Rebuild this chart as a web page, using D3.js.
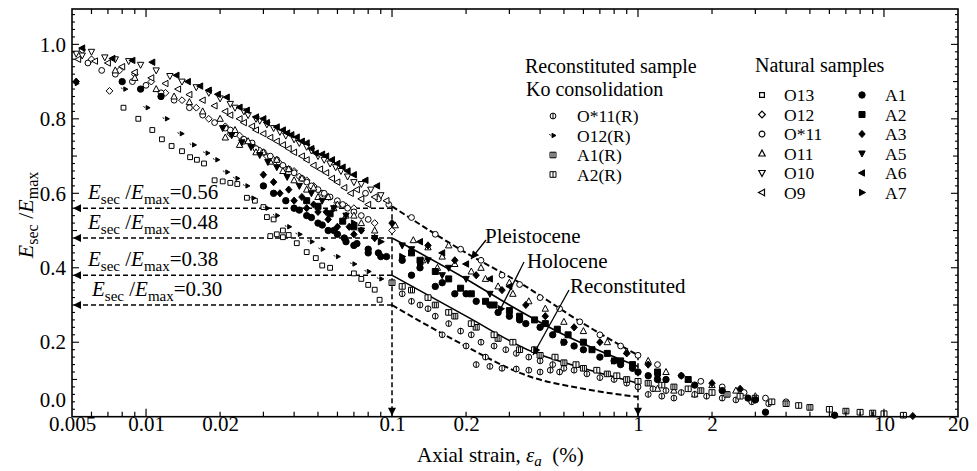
<!DOCTYPE html>
<html><head><meta charset="utf-8">
<script src="https://cdn.jsdelivr.net/npm/d3@7"></script>
<style>body{margin:0;background:#fff}svg{display:block}text{font-family:"Liberation Serif","Times New Roman",serif;fill:#000}</style>
</head><body><svg id="c" width="977" height="471"></svg>
<script>
// ---------- data (axial strain %, Esec/Emax) ----------
const xTickLabels = [0.005, 0.01, 0.02, 0.1, 0.2, 1, 2, 10, 20];
const xTickText = ["0.005", "0.01", "0.02", "0.1", "0.2", "1", "2", "10", "20"];
const yTickLabels = [0, 0.2, 0.4, 0.6, 0.8, 1.0];
const yTickText = ["0.0", "0.2", "0.4", "0.6", "0.8", "1.0"];

const o13 = [[0.0081,0.83],[0.0093,0.80],[0.0106,0.77],[0.0116,0.745],[0.0127,0.727],[0.014,0.713],[0.0151,0.697],[0.0161,0.69],[0.0172,0.68],[0.019,0.635],[0.0205,0.632],[0.022,0.628],[0.0235,0.625],[0.0257,0.588],[0.0277,0.58],[0.030,0.563],[0.031,0.536],[0.033,0.53],[0.036,0.50],[0.038,0.488],[0.041,0.466],[0.045,0.442],[0.049,0.426],[0.052,0.406],[0.056,0.40],[0.07,0.385],[0.075,0.37],[0.08,0.354],[0.085,0.341],[0.089,0.314],[0.034,0.49],[0.032,0.485],[0.036,0.482]];
const o12 = [[0.0055,0.985],[0.006,0.96],[0.0071,0.875],[0.0078,0.93],[0.009,0.92],[0.0105,0.90],[0.012,0.87],[0.014,0.85],[0.016,0.83],[0.018,0.80],[0.021,0.78],[0.024,0.755],[0.027,0.73],[0.031,0.70],[0.035,0.68],[0.04,0.66],[0.045,0.635],[0.052,0.60],[0.06,0.575],[0.07,0.56],[0.085,0.52],[0.10,0.50],[0.022,0.76],[0.025,0.74],[0.029,0.715],[0.033,0.69],[0.037,0.665],[0.042,0.645],[0.048,0.62],[0.055,0.59],[0.065,0.565]];
const oStar11 = [[0.0058,0.95],[0.0066,0.93],[0.0075,0.92],[0.0088,0.90],[0.010,0.89],[0.0115,0.87],[0.013,0.85],[0.015,0.83],[0.017,0.81],[0.019,0.79],[0.022,0.77],[0.025,0.745],[0.028,0.72],[0.032,0.70],[0.036,0.675],[0.04,0.655],[0.045,0.63],[0.05,0.61],[0.056,0.59],[0.063,0.57],[0.07,0.55],[0.08,0.53],[0.12,0.535],[0.15,0.49],[0.19,0.45],[0.23,0.42],[0.28,0.38],[0.33,0.355],[0.40,0.32],[0.48,0.29],[0.58,0.255],[0.70,0.22],[0.85,0.19],[1.0,0.165],[1.2,0.14],[1.5,0.11],[1.8,0.095],[2.2,0.08],[2.7,0.065],[3.3,0.05],[4.0,0.04],[0.021,0.775],[0.023,0.76],[0.027,0.735],[0.03,0.71],[0.034,0.69],[0.038,0.665],[0.043,0.64],[0.047,0.62],[0.053,0.60],[0.06,0.58],[0.066,0.56],[0.075,0.54],[0.078,0.60],[0.088,0.585],[0.097,0.57]];
const o11 = [[0.0075,0.93],[0.009,0.91],[0.011,0.88],[0.013,0.86],[0.015,0.845],[0.017,0.82],[0.02,0.80],[0.023,0.77],[0.026,0.74],[0.03,0.71],[0.034,0.69],[0.038,0.665],[0.043,0.64],[0.048,0.615],[0.055,0.59],[0.06,0.57],[0.07,0.54],[0.085,0.50],[0.103,0.514],[0.122,0.474],[0.133,0.42],[0.153,0.40],[0.14,0.455],[0.16,0.43],[0.18,0.41],[0.21,0.39],[0.24,0.37],[0.27,0.35],[0.31,0.33],[0.36,0.31],[0.42,0.29],[0.50,0.255],[0.60,0.23],[0.75,0.20],[0.90,0.175],[1.1,0.15],[1.3,0.12],[1.6,0.10],[2.0,0.085],[2.5,0.07],[3.0,0.055],[1.2,0.075],[1.4,0.07],[1.7,0.06],[0.021,0.75],[0.024,0.73],[0.028,0.71],[0.032,0.685],[0.036,0.66],[0.040,0.635],[0.045,0.61],[0.05,0.59],[0.058,0.56],[0.065,0.54],[0.075,0.52],[0.17,0.46],[0.23,0.40],[0.3,0.36]];
const o10 = [[0.0052,0.975],[0.0055,0.97],[0.006,0.98],[0.0068,0.965],[0.0075,0.96],[0.0085,0.955],[0.0095,0.945],[0.011,0.93],[0.0125,0.915],[0.014,0.90],[0.016,0.885],[0.018,0.87],[0.02,0.855],[0.022,0.84],[0.025,0.82],[0.028,0.80],[0.031,0.785],[0.035,0.765],[0.04,0.745],[0.045,0.725],[0.05,0.70],[0.056,0.68],[0.062,0.66],[0.07,0.63],[0.023,0.83],[0.026,0.81],[0.029,0.795],[0.033,0.775],[0.037,0.755],[0.042,0.735],[0.047,0.715],[0.053,0.69],[0.059,0.67],[0.066,0.645],[0.075,0.625],[0.082,0.61],[0.09,0.595]];
const o9 = [[0.0053,0.96],[0.0062,0.955],[0.007,0.95],[0.008,0.94],[0.009,0.925],[0.0105,0.91],[0.012,0.895],[0.0135,0.88],[0.015,0.865],[0.017,0.85],[0.019,0.835],[0.021,0.82],[0.024,0.80],[0.027,0.78],[0.03,0.76],[0.034,0.74],[0.038,0.72],[0.043,0.70],[0.048,0.675],[0.054,0.655],[0.06,0.63],[0.068,0.60],[0.075,0.585],[0.022,0.81],[0.025,0.79],[0.028,0.77],[0.032,0.75],[0.036,0.73],[0.040,0.71],[0.045,0.69],[0.051,0.665],[0.057,0.64],[0.064,0.615],[0.08,0.57],[0.072,0.61],[0.085,0.59],[0.095,0.58]];
const a1 = [[0.11,0.42],[0.13,0.40],[0.16,0.36],[0.20,0.33],[0.25,0.30],[0.30,0.27],[0.35,0.25],[0.45,0.22],[0.55,0.19],[0.70,0.16],[0.85,0.14],[1.0,0.12],[1.3,0.10],[1.7,0.085],[2.2,0.07],[2.8,0.05],[3.0,0.045],[3.3,0.012],[6.3,0.004],[0.04,0.56],[0.045,0.54],[0.05,0.52],[0.055,0.50],[0.06,0.49],[0.065,0.47],[0.07,0.46],[0.08,0.44],[0.09,0.43],[0.12,0.38],[0.15,0.35],[0.18,0.33],[0.22,0.31],[0.27,0.28],[0.33,0.26],[0.40,0.24],[0.50,0.20],[0.60,0.18],[0.80,0.15],[0.95,0.13],[1.1,0.11],[1.2,0.10],[0.008,0.90],[0.0095,0.88],[0.0115,0.86],[0.03,0.62],[0.033,0.60],[0.037,0.58],[0.042,0.555],[0.047,0.535],[0.052,0.515],[0.058,0.50],[0.064,0.48],[0.072,0.465],[0.08,0.45],[0.088,0.44],[0.095,0.43]];
const a2 = [[0.12,0.44],[0.15,0.39],[0.19,0.345],[0.24,0.31],[0.30,0.285],[0.38,0.26],[0.47,0.235],[0.60,0.20],[0.75,0.17],[0.95,0.14],[1.2,0.12],[1.6,0.10],[0.13,0.42],[0.17,0.37],[0.21,0.33],[0.26,0.30],[0.33,0.27],[0.42,0.25],[0.52,0.22],[0.65,0.18],[0.85,0.15],[0.045,0.58],[0.05,0.565],[0.056,0.545],[0.063,0.525],[0.07,0.51]];
const a3 = [[0.10,0.52],[0.14,0.46],[0.18,0.42],[0.22,0.38],[0.28,0.34],[0.35,0.30],[0.42,0.27],[0.55,0.24],[0.70,0.20],[0.90,0.17],[1.1,0.14],[1.5,0.11],[2.0,0.09],[2.6,0.075],[13.1,0.002],[0.035,0.60],[0.04,0.58],[0.045,0.56],[0.05,0.55],[0.055,0.53],[0.06,0.51],[0.07,0.49],[0.0052,0.90],[0.03,0.65],[0.033,0.63],[0.038,0.61],[0.043,0.59],[0.048,0.57],[0.054,0.55],[0.067,0.51],[0.075,0.50],[0.085,0.48]];
const a5 = [[0.0205,0.775],[0.0223,0.756],[0.0245,0.737],[0.0267,0.724],[0.029,0.703],[0.0313,0.684],[0.034,0.67],[0.0375,0.644],[0.042,0.62],[0.047,0.60],[0.052,0.58],[0.058,0.56],[0.065,0.54],[0.075,0.50],[0.085,0.48],[0.12,0.45],[0.14,0.42],[0.17,0.40],[0.20,0.37],[0.11,0.46],[0.16,0.38],[0.25,0.33]];
const a6 = [[0.0055,0.99],[0.0073,0.962],[0.0088,0.957],[0.0106,0.952],[0.0133,0.917],[0.0148,0.90],[0.0166,0.888],[0.018,0.877],[0.0196,0.866],[0.0213,0.858],[0.024,0.831],[0.0257,0.823],[0.028,0.805],[0.030,0.80],[0.034,0.778],[0.0375,0.762],[0.041,0.751],[0.045,0.735],[0.049,0.708],[0.054,0.70],[0.06,0.68],[0.066,0.66],[0.13,0.47],[0.16,0.44],[0.20,0.41],[0.25,0.37],[0.30,0.35],[0.031,0.79],[0.036,0.77],[0.039,0.757],[0.043,0.74],[0.047,0.72],[0.052,0.705],[0.057,0.69],[0.063,0.67],[0.07,0.65],[0.078,0.635],[0.087,0.62]];
const a7 = [[0.07,0.52],[0.09,0.47],[0.11,0.43],[0.13,0.41],[0.50,0.20],[0.80,0.15],[1.2,0.11]];
const oStar11R = [[0.11,0.33],[0.12,0.31],[0.13,0.30],[0.14,0.29],[0.15,0.27],[0.17,0.25],[0.19,0.23],[0.21,0.22],[0.23,0.20],[0.26,0.19],[0.29,0.18],[0.32,0.17],[0.36,0.16],[0.40,0.15],[0.45,0.14],[0.50,0.13],[0.55,0.125],[0.62,0.115],[0.70,0.105],[0.80,0.10],[0.90,0.09],[1.0,0.08],[1.15,0.075],[1.3,0.07],[1.5,0.065],[1.7,0.06],[1.9,0.055],[2.2,0.05],[2.5,0.045],[2.9,0.04],[3.4,0.035],[0.22,0.14],[0.25,0.135],[0.28,0.13],[0.32,0.128],[0.36,0.125],[0.40,0.12],[0.44,0.125],[0.48,0.12],[0.16,0.22],[0.2,0.19],[0.24,0.16],[1.1,0.06],[1.25,0.055],[1.4,0.05]];
const o12R = [[0.0052,0.895],[0.0082,0.88],[0.0101,0.83],[0.0121,0.80],[0.0139,0.76],[0.0156,0.73],[0.0177,0.708],[0.0194,0.69],[0.0213,0.657],[0.0234,0.64],[0.0257,0.62],[0.0272,0.587],[0.031,0.56],[0.034,0.54],[0.038,0.51],[0.042,0.49],[0.047,0.47],[0.052,0.45],[0.06,0.43],[0.07,0.41],[0.08,0.39],[0.09,0.37]];
const a1R = [[0.10,0.36],[0.12,0.34],[0.15,0.30],[0.18,0.27],[0.22,0.24],[0.27,0.21],[0.33,0.18],[0.40,0.165],[0.50,0.145],[0.60,0.13],[0.75,0.115],[0.90,0.10],[1.1,0.09],[1.4,0.08],[1.8,0.07],[2.3,0.06],[3.0,0.05],[4.0,0.035],[5.0,0.025],[7.0,0.015],[9.0,0.01]];
const a2R = [[0.11,0.35],[0.14,0.32],[0.17,0.28],[0.21,0.25],[0.26,0.22],[0.31,0.20],[0.38,0.18],[0.46,0.16],[0.56,0.14],[0.68,0.125],[0.82,0.11],[1.0,0.095],[1.25,0.085],[1.6,0.075],[2.0,0.065],[2.6,0.055],[3.5,0.04],[4.5,0.03],[6.0,0.02],[8.0,0.012],[10,0.008],[12,0.004]];

// band boundaries
const pleistoceneTop = [[0.1,0.565],[0.2,0.44],[0.33,0.36],[0.6,0.25],[1,0.165]];
const holoceneLine = [[0.1,0.48],[0.2,0.37],[0.3,0.30],[0.5,0.22],[1,0.135]];
const reconLine = [[0.1,0.38],[0.2,0.27],[0.37,0.175],[0.6,0.13],[1,0.09]];
const reconBottom = [[0.1,0.30],[0.18,0.205],[0.37,0.106],[0.6,0.075],[1,0.053]];
const thresholds = [0.56, 0.48, 0.38, 0.30];
const thresholdText = ["0.56", "0.48", "0.38", "0.30"];

// ---------- drawing ----------
const svg = d3.select("#c");
const X0 = 72, X1 = 958, Y0 = 9, Y1 = 416.7;
const x = d3.scaleLog().domain([0.005, 20]).range([X0, X1]);
const y = d3.scaleLinear().domain([0, 1.095]).range([Y1, Y0]);

const shapes = {
  sq: "M-2.4,-2.4h4.8v4.8h-4.8z",
  diam: "M0,-3.4L3.4,0L0,3.4L-3.4,0Z",
  circ: "M2.9,0A2.9,2.9 0 1,1 -2.9,0A2.9,2.9 0 1,1 2.9,0Z",
  tri: "M0,-3.5L3.2,2.5L-3.2,2.5Z",
  tridown: "M0,3.5L3.2,-2.5L-3.2,-2.5Z",
  trileft: "M-3.5,0L2.5,-3.2L2.5,3.2Z",
  triright: "M3.5,0L-2.5,-3.2L-2.5,3.2Z",
  fcirc: "M3.2,0A3.2,3.2 0 1,1 -3.2,0A3.2,3.2 0 1,1 3.2,0Z",
  fsq: "M-3,-3h6v6h-6z",
  fdiam: "M0,-3.6L3.2,0L0,3.6L-3.2,0Z",
  circbar: "M2.9,0A2.9,2.9 0 1,1 -2.9,0A2.9,2.9 0 1,1 2.9,0ZM0,-2.9V2.9",
  smallarrow: "M3,0L-1,-2.2L-1,2.2ZM-3.5,-1.5L-2.5,0",
  sqbar2: "M-3,-2.8h6v5.6h-6zM-1,-2.8V2.8M1,-2.8V2.8",
  sqbar1: "M-3,-2.8h6v5.6h-6zM0,-2.8V2.8"
};

const series = [
  {name:"O13", data:o13, shape:"sq", fill:false},
  {name:"O12", data:o12, shape:"diam", fill:false},
  {name:"O*11", data:oStar11, shape:"circ", fill:false},
  {name:"O11", data:o11, shape:"tri", fill:false},
  {name:"O10", data:o10, shape:"tridown", fill:false},
  {name:"O9", data:o9, shape:"trileft", fill:false},
  {name:"O*11(R)", data:oStar11R, shape:"circbar", fill:false},
  {name:"A1(R)", data:a1R, shape:"sqbar2", fill:false},
  {name:"A2(R)", data:a2R, shape:"sqbar1", fill:false},
  {name:"A1", data:a1, shape:"fcirc", fill:true},
  {name:"A2", data:a2, shape:"fsq", fill:true},
  {name:"A3", data:a3, shape:"fdiam", fill:true},
  {name:"A5", data:a5, shape:"tridown", fill:true},
  {name:"A6", data:a6, shape:"trileft", fill:true},
  {name:"A7", data:a7, shape:"triright", fill:true},
  {name:"O12(R)", data:o12R, shape:"smallarrow", fill:true}
];

// arrow marker
const defs = svg.append("defs");
defs.append("marker").attr("id","ah").attr("viewBox","0 0 10 10").attr("refX",10).attr("refY",5)
  .attr("markerWidth",10).attr("markerHeight",8).attr("markerUnits","userSpaceOnUse").attr("orient","auto")
  .append("path").attr("d","M0,0L10,5L0,10Z").attr("fill","#000");

// band lines
const line = d3.line().x(d => x(d[0])).y(d => y(d[1])).curve(d3.curveMonotoneX);
const gBands = svg.append("g").attr("fill","none").attr("stroke","#000");
gBands.append("path").attr("d", line(pleistoceneTop)).attr("stroke-width",2).attr("stroke-dasharray","6,3");
gBands.append("path").attr("d", line(holoceneLine)).attr("stroke-width",1.6);
gBands.append("path").attr("d", line(reconLine)).attr("stroke-width",1.6);
gBands.append("path").attr("d", line(reconBottom)).attr("stroke-width",2).attr("stroke-dasharray","6,3");

// thresholds
const gT = svg.append("g");
thresholds.forEach((t, i) => {
  gT.append("line").attr("x1", x(0.1)).attr("x2", X0 + 1).attr("y1", y(t)).attr("y2", y(t))
    .attr("stroke","#000").attr("stroke-width",1.5).attr("stroke-dasharray","5,3").attr("marker-end","url(#ah)");
  const tx = gT.append("text").attr("x", i === 3 ? 92 : 88).attr("y", y(t) - 9).attr("font-size", 21);
  tx.append("tspan").attr("font-style","italic").text("E");
  tx.append("tspan").attr("font-size",15).attr("dy",5).text("sec");
  tx.append("tspan").attr("dy",-5).text(" /");
  tx.append("tspan").attr("font-style","italic").text("E");
  tx.append("tspan").attr("font-size",15).attr("dy",5).text("max");
  tx.append("tspan").attr("dy",-5).text("=" + thresholdText[i]);
});
gT.append("line").attr("x1", x(0.1)).attr("x2", x(0.1)).attr("y1", y(0.565)).attr("y2", Y1 - 1)
  .attr("stroke","#000").attr("stroke-width",1.5).attr("stroke-dasharray","5,3").attr("marker-end","url(#ah)");
gT.append("line").attr("x1", x(1)).attr("x2", x(1)).attr("y1", y(0.165)).attr("y2", Y1 - 1)
  .attr("stroke","#000").attr("stroke-width",1.5).attr("stroke-dasharray","5,3").attr("marker-end","url(#ah)");

// points
const gP = svg.append("g");
series.forEach(s => {
  gP.append("g").selectAll("path").data(s.data).join("path")
    .attr("d", shapes[s.shape])
    .attr("transform", d => `translate(${x(d[0]).toFixed(1)},${y(d[1]).toFixed(1)})`)
    .attr("fill", s.fill ? "#000" : "#fff")
    .attr("stroke","#000").attr("stroke-width", 1);
});

// axes frame
svg.append("rect").attr("x",X0).attr("y",Y0).attr("width",X1-X0).attr("height",Y1-Y0)
  .attr("fill","none").attr("stroke","#000").attr("stroke-width",1.6);

// x ticks (inward, bottom & top)
const xMajor = [0.01, 0.1, 1, 10];
const xMinor = [];
[0.001, 0.01, 0.1, 1, 10].forEach(dec => { for (let k = 2; k <= 9; k++) { const v = +(dec * k).toPrecision(3); if (v > 0.005 && v < 20) xMinor.push(v); } });
const gx = svg.append("g").attr("stroke","#000").attr("stroke-width",1.2);
xMinor.forEach(v => {
  gx.append("line").attr("x1",x(v)).attr("x2",x(v)).attr("y1",Y1).attr("y2",Y1-5);
  gx.append("line").attr("x1",x(v)).attr("x2",x(v)).attr("y1",Y0).attr("y2",Y0+5);
});
xMajor.forEach(v => {
  gx.append("line").attr("x1",x(v)).attr("x2",x(v)).attr("y1",Y1).attr("y2",Y1-8);
  gx.append("line").attr("x1",x(v)).attr("x2",x(v)).attr("y1",Y0).attr("y2",Y0+8);
});
const xAxis = d3.axisBottom(x).tickValues(xTickLabels).tickSize(0).tickPadding(0)
  .tickFormat((d, i) => xTickText[i]);
const gxa = svg.append("g").attr("transform",`translate(0,${Y1})`).call(xAxis);
gxa.select(".domain").remove();
gxa.selectAll("text").attr("font-family","Liberation Serif").attr("font-size",21).attr("dy",null).attr("y",14.3).attr("fill","#000");

// y ticks
const gy = svg.append("g").attr("stroke","#000").attr("stroke-width",1.1);
for (let k = 1; k < 55; k++) {
  const v = k * 0.02;
  const len = (k % 10 === 0) ? 7 : (k % 5 === 0 ? 5 : 3);
  gy.append("line").attr("x1",X0).attr("x2",X0+len).attr("y1",y(v)).attr("y2",y(v));
  gy.append("line").attr("x1",X1).attr("x2",X1-len).attr("y1",y(v)).attr("y2",y(v));
}
const yAxis = d3.axisLeft(y).tickValues(yTickLabels).tickSize(0).tickPadding(6).tickFormat((d, i) => yTickText[i]);
const gya = svg.append("g").attr("transform",`translate(${X0},0)`).call(yAxis);
gya.select(".domain").remove();
gya.selectAll("text").attr("font-family","Liberation Serif").attr("font-size",21).attr("fill","#000")
  .attr("dy", d => d === 0 ? "-0.5em" : "0.32em");

// axis titles
const xt = svg.append("text").attr("x", 417).attr("y", 462).attr("font-size", 21);
xt.append("tspan").text("Axial strain, ");
xt.append("tspan").attr("font-style","italic").text("\u03b5");
xt.append("tspan").attr("font-style","italic").attr("font-size",15).attr("dy",4).text("a");
xt.append("tspan").attr("dy",-4).text("\u00a0 (%)");

const yt = svg.append("text").attr("transform","translate(33,215) rotate(-90)").attr("text-anchor","middle").attr("font-size",22);
yt.append("tspan").attr("font-style","italic").text("E");
yt.append("tspan").attr("font-size",16).attr("dy",5).text("sec");
yt.append("tspan").attr("dy",-5).text(" /");
yt.append("tspan").attr("font-style","italic").text("E");
yt.append("tspan").attr("font-size",16).attr("dy",5).text("max");

// band labels with arrows
const labels = [
  {t:"Pleistocene", tx:485, ty:243, ax1:486, ay1:240, ax2:471, ay2:259},
  {t:"Holocene", tx:527, ty:268, ax1:524, ay1:262, ax2:498, ay2:314},
  {t:"Reconstituted", tx:570, ty:293, ax1:569, ay1:290, ax2:533, ay2:355}
];
labels.forEach(l => {
  svg.append("text").attr("x", l.tx).attr("y", l.ty).attr("font-size", 21).text(l.t);
  svg.append("line").attr("x1", l.ax1).attr("y1", l.ay1).attr("x2", l.ax2).attr("y2", l.ay2)
    .attr("stroke","#000").attr("stroke-width",1.3).attr("marker-end","url(#ah)");
});

// legends
const LF = 17.5;
const legR = [
  {s:"circbar", f:false, t:"O*11(R)", y:122},
  {s:"smallarrow", f:true, t:"O12(R)", y:141.5},
  {s:"sqbar2", f:false, t:"A1(R)", y:161},
  {s:"sqbar1", f:false, t:"A2(R)", y:180.5}
];
svg.append("text").attr("x",525).attr("y",73).attr("font-size",20).text("Reconstituted sample");
svg.append("text").attr("x",526).attr("y",95.5).attr("font-size",20).text("Ko consolidation");
legR.forEach(d => {
  svg.append("path").attr("d", shapes[d.s]).attr("transform",`translate(553,${d.y-6})`)
    .attr("fill", d.f ? "#000" : "#fff").attr("stroke","#000");
  svg.append("text").attr("x",577).attr("y",d.y).attr("font-size",LF).text(d.t);
});
svg.append("text").attr("x",755).attr("y",72).attr("font-size",20).text("Natural samples");
const legN1 = [
  {s:"sq", t:"O13", y:101}, {s:"diam", t:"O12", y:120.5}, {s:"circ", t:"O*11", y:140},
  {s:"tri", t:"O11", y:159.5}, {s:"tridown", t:"O10", y:179}, {s:"trileft", t:"O9", y:198.5}
];
const legN2 = [
  {s:"fcirc", t:"A1", y:101}, {s:"fsq", t:"A2", y:120.5}, {s:"fdiam", t:"A3", y:140},
  {s:"tridown", t:"A5", y:159.5}, {s:"trileft", t:"A6", y:179}, {s:"triright", t:"A7", y:198.5}
];
legN1.forEach(d => {
  svg.append("path").attr("d", shapes[d.s]).attr("transform",`translate(762,${d.y-6})`)
    .attr("fill","#fff").attr("stroke","#000").attr("stroke-width",1.2);
  svg.append("text").attr("x",784).attr("y",d.y).attr("font-size",LF).text(d.t);
});
legN2.forEach(d => {
  svg.append("path").attr("d", shapes[d.s]).attr("transform",`translate(862,${d.y-6})`)
    .attr("fill","#000").attr("stroke","#000");
  svg.append("text").attr("x",885).attr("y",d.y).attr("font-size",LF).text(d.t);
});
</script></body></html>
